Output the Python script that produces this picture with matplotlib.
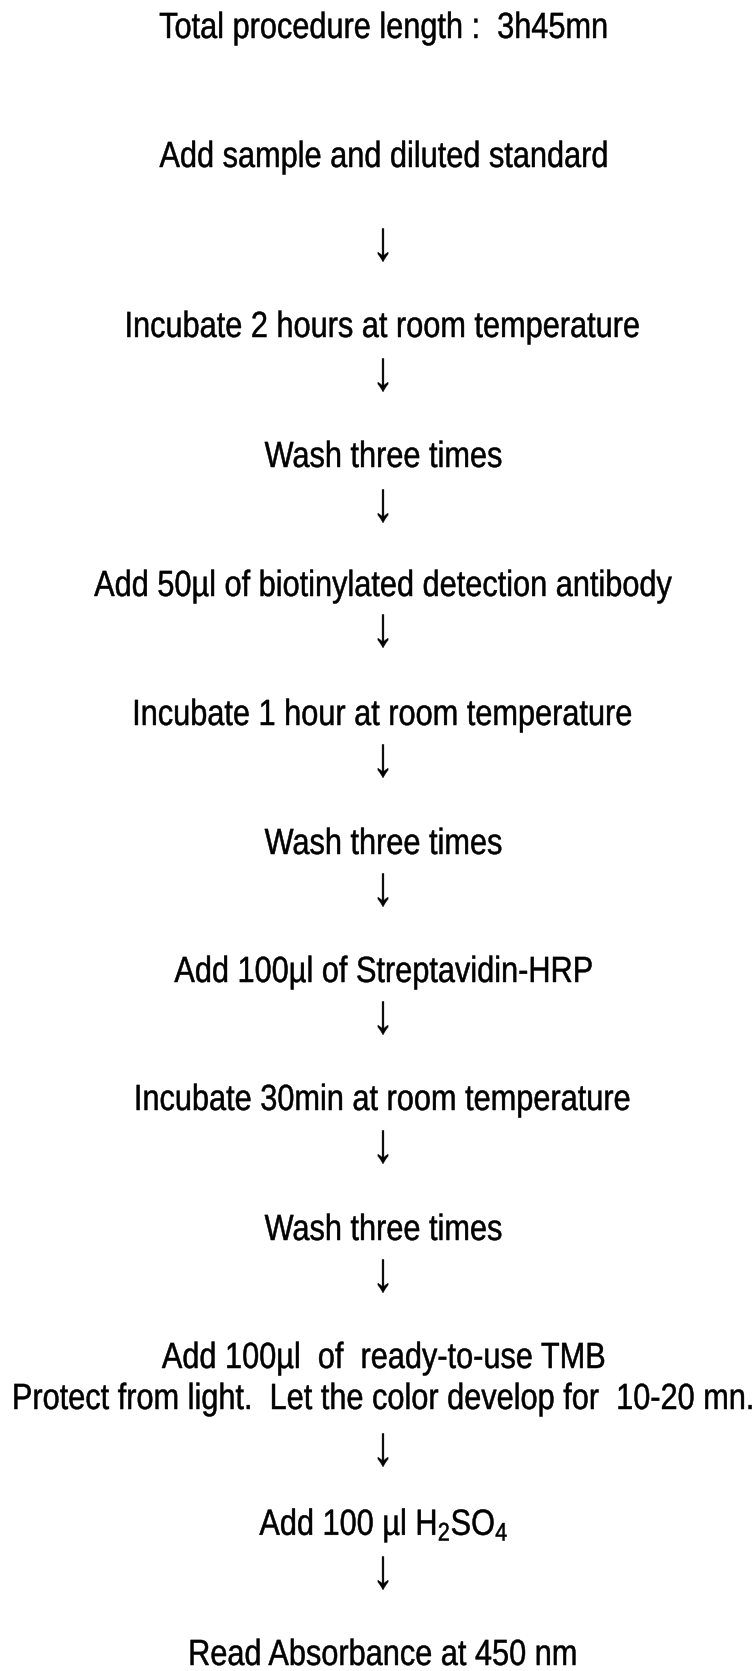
import matplotlib
matplotlib.use('Agg')
import matplotlib.pyplot as plt
from matplotlib.textpath import TextPath
from matplotlib.patches import PathPatch
from matplotlib.font_manager import FontProperties
from matplotlib.transforms import Affine2D

plt.rcParams['mathtext.fontset'] = 'custom'
plt.rcParams['mathtext.rm'] = 'Liberation Sans'
plt.rcParams['mathtext.it'] = 'Liberation Sans'
plt.rcParams['mathtext.default'] = 'rm'

W, H = 755, 1671

# protocol steps, top to bottom
steps = [
    'Total procedure length :  3h45mn',
    'Add sample and diluted standard',
    'Incubate 2 hours at room temperature',
    'Wash three times',
    'Add 50µl of biotinylated detection antibody',
    'Incubate 1 hour at room temperature',
    'Wash three times',
    'Add 100µl of Streptavidin-HRP',
    'Incubate 30min at room temperature',
    'Wash three times',
    'Add 100µl  of  ready-to-use TMB',
    'Protect from light.  Let the color develop for  10-20 mn.',
    r'Add 100 µl H$_2$SO$_4$',
    'Read Absorbance at 450 nm',
]
# baseline of each step, pixels from top
step_y = [38, 167, 337, 467, 596, 725, 854, 982, 1110, 1240, 1368, 1409, 1535, 1665]
# centre of each down arrow, pixels from top
arrow_y = [245, 375, 506, 631, 761, 890, 1018, 1147, 1276, 1450, 1573]

fig = plt.figure(figsize=(W / 100, H / 100), dpi=100)
fig.patch.set_facecolor('white')
ax = fig.add_axes([0, 0, 1, 1])
ax.set_xlim(0, W)
ax.set_ylim(H, 0)
ax.axis('off')

fp = FontProperties(family='Liberation Sans')
em = 34.7      # font size in pixels
sx = 0.885     # the reference font is a condensed Arial
sy = 1.05
xc = 383


def put_text(txt, yb):
    tp = TextPath((0, 0), txt, size=em, prop=fp)
    ext = tp.get_extents()
    tr = Affine2D().translate(-(ext.x0 + ext.x1) / 2, 0).scale(sx, -sy).translate(xc, yb)
    ax.add_patch(PathPatch(tr.transform_path(tp), fc='black', ec='black', lw=0.35))


def put_arrow(yc, height=33):
    tp = TextPath((0, 0), '↓', size=em, prop=fp)
    ext = tp.get_extents()
    k = height / (ext.y1 - ext.y0)
    tr = (Affine2D().translate(-(ext.x0 + ext.x1) / 2, -(ext.y0 + ext.y1) / 2)
          .scale(k * 0.78, -k).translate(xc, yc))
    ax.add_patch(PathPatch(tr.transform_path(tp), fc='black', ec='black', lw=0.3))


for txt, y in zip(steps, step_y):
    put_text(txt, y)
for y in arrow_y:
    put_arrow(y)

fig.savefig('out.png', dpi=100, facecolor='white')
